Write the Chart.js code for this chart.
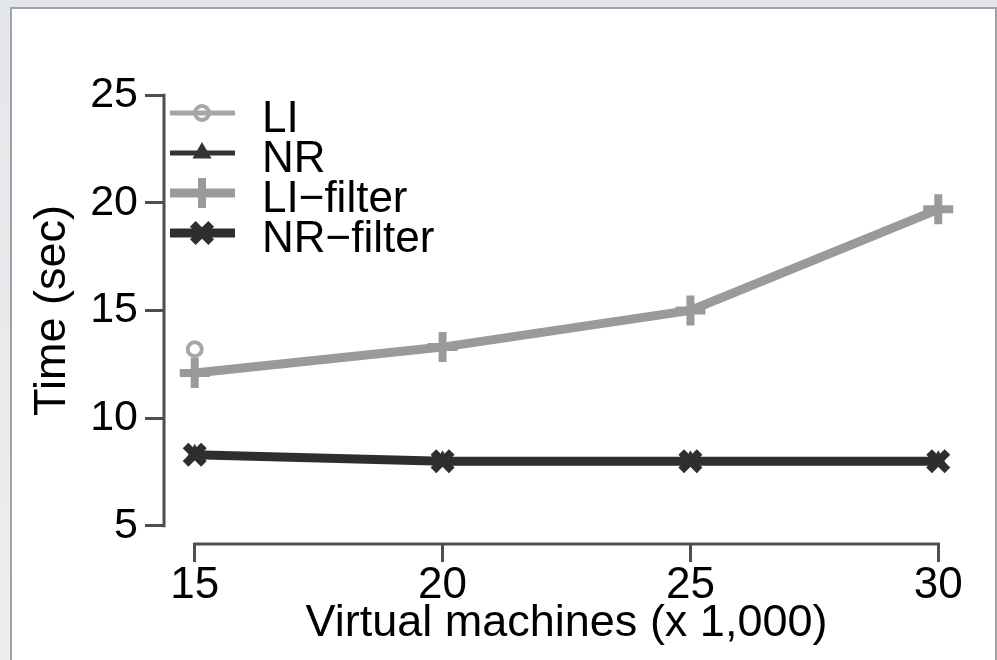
<!DOCTYPE html>
<html><head><meta charset="utf-8">
<script src="https://cdn.jsdelivr.net/npm/chart.js@4.4.1/dist/chart.umd.min.js"></script>
<style>
html,body{margin:0;padding:0;width:997px;height:660px;overflow:hidden;background:linear-gradient(180deg,#e3e6ea,#eceef1);}
#panel{position:absolute;left:10px;top:7px;width:983px;height:720px;background:#fff;border:2px solid #a2a2a2;}
#c{position:absolute;left:0;top:0;}
</style></head><body>
<div id="panel"></div>
<canvas id="c" width="997" height="660"></canvas>
<script>
// ---- data ----
const vms = [15, 20, 25, 30];            // Virtual machines (x 1,000)
const xTicks = [15, 20, 25, 30];
const yTicks = [5, 10, 15, 20, 25];
const li       = [13.2, null, null, null];
const nr       = [8.3, 8.0, 8.0, 8.0];
const liFilter = [12.1, 13.3, 15.0, 19.7];
const nrFilter = [8.3, 8.0, 8.0, 8.0];
const seriesNames = ['LI', 'NR', 'LI\u2212filter', 'NR\u2212filter'];
const xTitle = 'Virtual machines (x 1,000)';
const yTitle = 'Time (sec)';

const FONT = '"Liberation Sans", Arial, Helvetica, sans-serif';
const AXIS = '#4e4e4e';
const LIGHT = '#a6a6a6', LIGHT2 = '#9a9a9a', DARK = '#343434', DARK2 = '#2e2e2e';

const pts = arr => vms.map((v, i) => ({x: v, y: arr[i]}));

const datasets = [
  {label: seriesNames[0], data: pts(li), borderColor: LIGHT, backgroundColor: 'rgba(0,0,0,0)',
   borderWidth: 5, pointStyle: 'circle', pointRadius: 7, pointBorderWidth: 4, order: 1},
  {label: seriesNames[1], data: pts(nr), borderColor: DARK, backgroundColor: DARK,
   borderWidth: 5, pointStyle: 'triangle', pointRadius: 9, pointBorderWidth: 2, order: 1},
  {label: seriesNames[2], data: pts(liFilter), borderColor: LIGHT2, backgroundColor: LIGHT2,
   borderWidth: 9, pointStyle: 'cross', pointRadius: 15, pointBorderWidth: 8, order: 0},
  {label: seriesNames[3], data: pts(nrFilter), borderColor: DARK2, backgroundColor: DARK2,
   borderWidth: 9, pointStyle: 'crossRot', pointRadius: 13, pointBorderWidth: 8, order: 0}
];

const axisLines = {
  id: 'axisLines',
  beforeDatasetsDraw(chart) {
    const {ctx, chartArea, scales: {x, y}} = chart;
    ctx.save();
    ctx.strokeStyle = AXIS; ctx.lineWidth = 3; ctx.lineCap = 'square';
    ctx.beginPath();
    ctx.moveTo(chartArea.left - 1, y.getPixelForValue(yTicks[0]));
    ctx.lineTo(chartArea.left - 1, y.getPixelForValue(yTicks[yTicks.length - 1]));
    ctx.moveTo(x.getPixelForValue(xTicks[0]), chartArea.bottom + 1);
    ctx.lineTo(x.getPixelForValue(xTicks[xTicks.length - 1]), chartArea.bottom + 1);
    ctx.stroke();
    ctx.restore();
  }
};

const innerLegend = {
  id: 'innerLegend',
  afterDatasetsDraw(chart) {
    const {ctx} = chart;
    const x0 = 170, x1 = 235, xm = 202, tx = 262, y0 = 113, dy = 40;
    ctx.save();
    chart.data.datasets.forEach((ds, i) => {
      const yy = y0 + i * dy;
      ctx.strokeStyle = ds.borderColor; ctx.lineWidth = ds.borderWidth; ctx.lineCap = 'butt';
      ctx.beginPath(); ctx.moveTo(x0, yy); ctx.lineTo(x1, yy); ctx.stroke();
      ctx.strokeStyle = ds.borderColor; ctx.fillStyle = ds.backgroundColor;
      ctx.lineWidth = ds.pointBorderWidth;
      Chart.helpers.drawPoint(ctx, {pointStyle: ds.pointStyle, radius: ds.pointRadius,
        borderWidth: ds.pointBorderWidth, rotation: 0}, xm, yy);
      ctx.fillStyle = '#000'; ctx.font = '44px ' + FONT;
      ctx.textAlign = 'left'; ctx.textBaseline = 'alphabetic';
      ctx.fillText(ds.label, tx, yy + 19);
    });
    ctx.restore();
  }
};

new Chart(document.getElementById('c'), {
  type: 'line',
  data: {datasets},
  options: {
    responsive: false, animation: false, devicePixelRatio: 1,
    layout: {padding: {top: 78, right: 29, left: 0, bottom: 0}},
    elements: {line: {tension: 0}},
    plugins: {legend: {display: false}, tooltip: {enabled: false}},
    scales: {
      x: {
        type: 'linear', min: 14.4, max: 30.6,
        afterBuildTicks: s => { s.ticks = xTicks.map(v => ({value: v})); },
        afterFit: s => { s.height = 117; },
        border: {display: false},
        grid: {display: true, drawOnChartArea: false, drawTicks: true, tickLength: 19, color: AXIS, lineWidth: 3},
        ticks: {color: '#000', font: {family: FONT, size: 44, lineHeight: 1}, padding: 2, maxRotation: 0, autoSkip: false},
        title: {display: true, text: xTitle, color: '#000', font: {family: FONT, size: 45}, padding: {top: 0, bottom: 9}}
      },
      y: {
        type: 'linear', min: 4.2, max: 25.8,
        afterBuildTicks: s => { s.ticks = yTicks.map(v => ({value: v})); },
        afterFit: s => { s.width = 165; },
        border: {display: false},
        grid: {display: true, drawOnChartArea: false, drawTicks: true, tickLength: 20, color: AXIS, lineWidth: 3},
        ticks: {color: '#000', font: {family: FONT, size: 43}, padding: 7, autoSkip: false},
        title: {display: true, text: yTitle, color: '#000', font: {family: FONT, size: 45}, padding: {top: 26, bottom: 0}}
      }
    }
  },
  plugins: [axisLines, innerLegend]
});
</script>
</body></html>
